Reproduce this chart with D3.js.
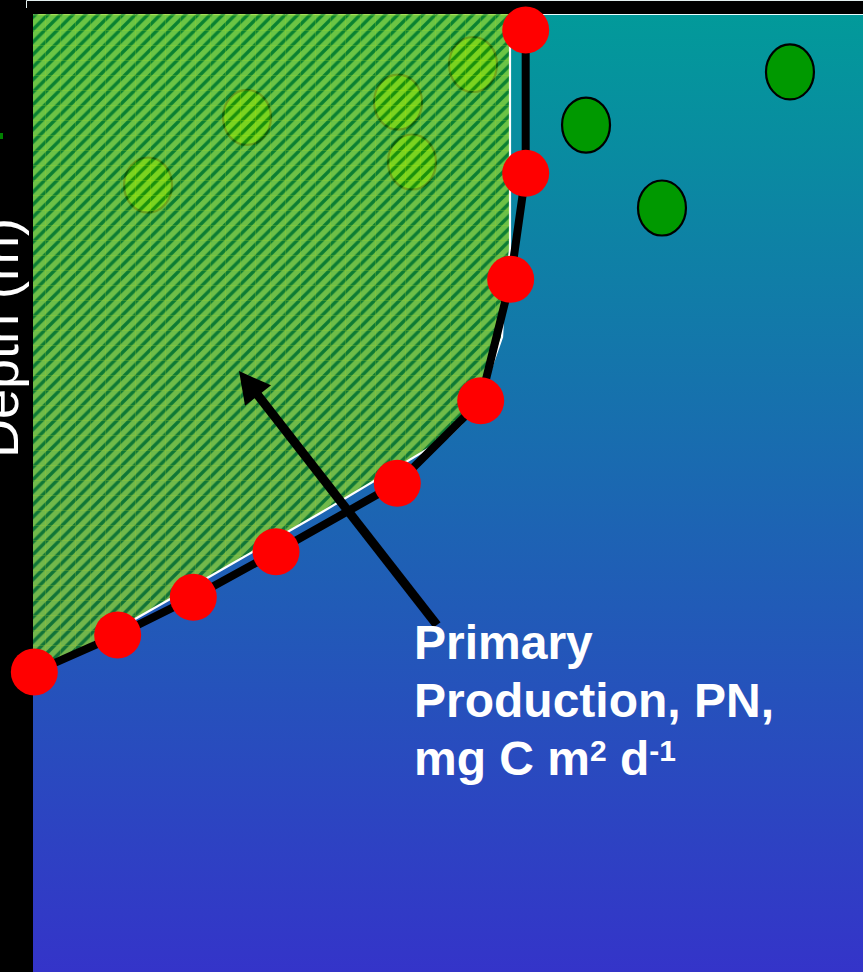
<!DOCTYPE html>
<html><head><meta charset="utf-8">
<script src="https://cdn.jsdelivr.net/npm/d3@7"></script>
<style>html,body{margin:0;padding:0;background:#000;overflow:hidden}</style>
</head><body><svg id="chart" width="863" height="972"></svg>
<script>
// ---- data (production in %, depth in % of plotted range) ----
const pointProduction = [59.36, 59.36, 57.55, 53.94, 43.89, 29.28, 19.31, 10.20, 0.16];
const pointDepth      = [1.67, 16.63, 27.69, 40.37, 48.99, 56.13, 60.89, 64.82, 68.68];
const envelopeProduction = [57.47, 57.47, 56.75, 56.51, 54.82, 51.69, 50.00, 34.58, 20.93, 0];
const envelopeDepth      = [0, 24.63, 29.85, 33.72, 37.89, 42.69, 44.15, 52.12, 58.90, 69.21];
const cellProduction = [13.86, 25.78, 43.98, 45.66, 53.01, 66.63, 75.78, 91.20];
const cellDepth      = [17.85, 10.80, 9.19, 15.45, 5.27, 11.59, 20.25, 6.05];
const arrowProduction = [48.67, 24.82];
const arrowDepth      = [63.78, 37.27];
const labelLine1 = "Primary";
const labelLine2 = "Production, PN,";
const labelLine3 = ["mg C m", "2", " d", "-1"];
const yAxisTitle = "Depth (m)";

// ---- layout ----
const W = 863, H = 972;
const plot = {left: 33, top: 14, right: 863, bottom: 972};
const x = d3.scaleLinear().domain([0, 100]).range([plot.left, plot.right]);
const y = d3.scaleLinear().domain([0, 100]).range([plot.top, plot.bottom]);

const svg = d3.select("#chart");
svg.append("rect").attr("width", W).attr("height", H).attr("fill", "#000");

const defs = svg.append("defs");
const grad = defs.append("linearGradient").attr("id", "bg")
  .attr("x1", 0).attr("y1", 0).attr("x2", 0).attr("y2", 1);
grad.append("stop").attr("offset", "0%").attr("stop-color", "#029a9a");
grad.append("stop").attr("offset", "100%").attr("stop-color", "#3434c9");

const P = 12.5;
const stripes = defs.append("pattern").attr("id", "stripes")
  .attr("patternUnits", "userSpaceOnUse").attr("width", P).attr("height", P);
stripes.append("rect").attr("width", P).attr("height", P).attr("fill", "#8cd42a");
stripes.append("path").attr("d", `M-3,3 L3,-3 M0,${P} L${P},0 M${P - 3},${P + 3} L${P + 3},${P - 3}`)
  .attr("stroke", "#0c7c10").attr("stroke-width", 3.4);

const grid = defs.append("pattern").attr("id", "grid")
  .attr("patternUnits", "userSpaceOnUse").attr("width", 15).attr("height", 15);
grid.append("path").attr("d", "M0.5,0 V15 M0,0.5 H15")
  .attr("stroke", "#d8ee00").attr("stroke-width", 1).attr("opacity", 0.25);

defs.append("clipPath").attr("id", "plotClip").append("rect")
  .attr("x", plot.left).attr("y", plot.top)
  .attr("width", plot.right - plot.left).attr("height", plot.bottom - plot.top);

// frame
svg.append("path").attr("d", `M26.5,8 V0.5 H${W}`)
  .attr("fill", "none").attr("stroke", "#e4f0f0").attr("stroke-width", 1);
svg.append("rect").attr("x", 0).attr("y", 133).attr("width", 3).attr("height", 6).attr("fill", "#008000");

const g = svg.append("g").attr("clip-path", "url(#plotClip)");
g.append("rect").attr("x", plot.left).attr("y", plot.top)
  .attr("width", plot.right - plot.left).attr("height", plot.bottom - plot.top)
  .attr("fill", "url(#bg)");
g.append("line").attr("x1", plot.left).attr("x2", plot.right)
  .attr("y1", plot.top + 0.5).attr("y2", plot.top + 0.5)
  .attr("stroke", "#e8ffff").attr("stroke-width", 1.2);

const pts = pointProduction.map((p, i) => [p, pointDepth[i]]);
const line = d3.line().x(d => x(d[0])).y(d => y(d[1]));

// profile line
svg.append("path").datum(pts).attr("d", line)
  .attr("fill", "none").attr("stroke", "#000").attr("stroke-width", 8)
  .attr("stroke-linejoin", "round").attr("clip-path", "url(#plotClip)");

// hatched production envelope geometry
const env = envelopeProduction.map((p, i) => [p, envelopeDepth[i]]);
const poly = [[0, 0], ...env];
const polyPx = poly.map(d => [x(d[0]), y(d[1])]);

// cells (those inside the envelope show lighter through the hatch)
const rx = x(2.89) - x(0), ry = y(2.87) - y(0);
g.selectAll("ellipse.cell").data(cellProduction.map((p, i) => [p, cellDepth[i]]))
  .join("ellipse").attr("class", "cell")
  .attr("cx", d => x(d[0])).attr("cy", d => y(d[1]))
  .attr("rx", rx).attr("ry", ry)
  .attr("fill", d => d3.polygonContains(polyPx, [x(d[0]), y(d[1])]) ? "#44d400" : "#009900")
  .attr("stroke", "#000").attr("stroke-width", 2.2);

const area = d3.line().x(d => x(d[0])).y(d => y(d[1]));
const hatch = g.append("g").attr("opacity", 0.76);
hatch.append("path").attr("d", area(poly) + "Z").attr("fill", "url(#stripes)");
hatch.append("path").attr("d", area(poly) + "Z").attr("fill", "url(#grid)");
g.append("path").datum(env).attr("d", area)
  .attr("fill", "none").attr("stroke", "#fff").attr("stroke-width", 2.2);

// arrow
const tail = [x(arrowProduction[0]), y(arrowDepth[0])];
const tip = [x(arrowProduction[1]), y(arrowDepth[1])];
const dx = tip[0] - tail[0], dy = tip[1] - tail[1], len = Math.hypot(dx, dy);
const ux = dx / len, uy = dy / len, nx = -uy, ny = ux;
const headL = 31, headW = 16.5;
const base = [tip[0] - headL * ux, tip[1] - headL * uy];
svg.append("line").attr("x1", tail[0]).attr("y1", tail[1])
  .attr("x2", base[0] + 4 * ux).attr("y2", base[1] + 4 * uy)
  .attr("stroke", "#000").attr("stroke-width", 9);
svg.append("path")
  .attr("d", `M${tip[0]},${tip[1]} L${base[0] + headW * nx},${base[1] + headW * ny} L${base[0] - headW * nx},${base[1] - headW * ny} Z`)
  .attr("fill", "#000");

// red points
svg.selectAll("circle.pt").data(pts).join("circle").attr("class", "pt")
  .attr("cx", d => x(d[0])).attr("cy", d => y(d[1])).attr("r", 23.5)
  .attr("fill", "#ff0000");

// label
const font = "'Liberation Sans', Arial, sans-serif";
const lx = x(45.9);
const lab = svg.append("text").attr("fill", "#fff")
  .attr("font-family", font).attr("font-weight", "bold").attr("font-size", 48);
lab.append("tspan").attr("x", lx).attr("y", y(67.33)).text(labelLine1);
lab.append("tspan").attr("x", lx).attr("y", y(73.38)).text(labelLine2);
const t3 = svg.append("text").attr("fill", "#fff")
  .attr("font-family", font).attr("font-weight", "bold").attr("font-size", 48)
  .attr("x", lx).attr("y", y(79.44));
t3.append("tspan").text(labelLine3[0]);
t3.append("tspan").attr("font-size", 30).attr("dy", -14).text(labelLine3[1]);
t3.append("tspan").attr("dy", 14).text(labelLine3[2]);
t3.append("tspan").attr("font-size", 30).attr("dy", -14).text(labelLine3[3]);

// y axis title (cut off by the left edge, as in the original slide)
svg.append("text").attr("transform", `translate(18,${338}) rotate(-90)`)
  .attr("text-anchor", "middle").attr("fill", "#fff")
  .attr("font-family", font).attr("font-size", 54).text(yAxisTitle);
</script></body></html>
